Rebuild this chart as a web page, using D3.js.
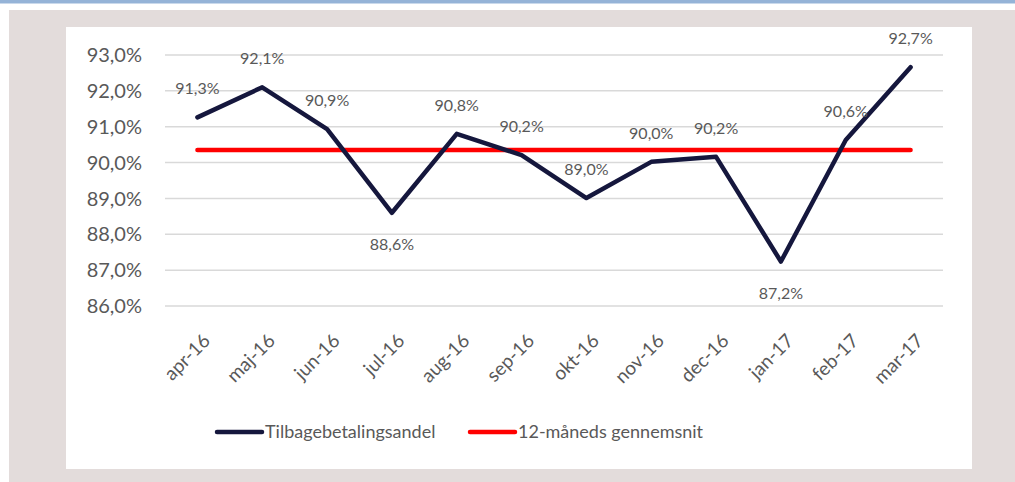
<!DOCTYPE html>
<html>
<head>
<meta charset="utf-8">
<script src="https://cdn.jsdelivr.net/npm/d3@7"></script>
<style>
  body { margin: 0; background: #fff; }
  text { font-family: Lato, "Noto Sans", sans-serif; fill: #595959; }
</style>
</head>
<body>
<script>
// ---------------------------------------------------------------
// data
var months = ["apr-16", "maj-16", "jun-16", "jul-16", "aug-16", "sep-16",
              "okt-16", "nov-16", "dec-16", "jan-17", "feb-17", "mar-17"];
var andel = [91.26, 92.10, 90.93, 88.60, 90.80, 90.21, 89.01, 90.02, 90.16, 87.24, 90.63, 92.66];
var snit = [90.35, 90.35, 90.35, 90.35, 90.35, 90.35, 90.35, 90.35, 90.35, 90.35, 90.35, 90.35];
var labelBelow = ["jul-16", "jan-17"];
var yTicks = [86, 87, 88, 89, 90, 91, 92, 93];
var seriesNames = ["Tilbagebetalingsandel", "12-måneds gennemsnit"];
var seriesColors = ["#15173d", "#ff0000"];
// ---------------------------------------------------------------

var W = 1015, H = 482;
var svg = d3.select("body").append("svg").attr("width", W).attr("height", H);

// frame
svg.append("rect").attr("x", 0).attr("y", 0).attr("width", W).attr("height", 3.5).attr("fill", "#95b3d7");
svg.append("rect").attr("x", 9).attr("y", 10).attr("width", W - 9).attr("height", H - 10).attr("fill", "#e3dcdb");
svg.append("rect").attr("x", 66).attr("y", 27).attr("width", 906).attr("height", 442).attr("fill", "#fff");

var x = d3.scaleBand().domain(months).range([165, 943]);
var y = d3.scaleLinear().domain([86, 93]).range([306, 55]);
var fmt = function(v) { return d3.format(".1f")(v).replace(".", ",") + "%"; };

// grid + y labels
svg.append("g").selectAll("line").data(yTicks).enter().append("line")
  .attr("x1", 165).attr("x2", 943)
  .attr("y1", function(d) { return y(d); }).attr("y2", function(d) { return y(d); })
  .attr("stroke", "#d9d9d9").attr("stroke-width", 1.5);

svg.append("g").selectAll("text").data(yTicks).enter().append("text")
  .attr("x", 142).attr("y", function(d) { return y(d); }).attr("dy", "0.36em")
  .attr("text-anchor", "end").style("font-size", "20px")
  .text(function(d) { return fmt(d); });

// x labels, rotated -45
svg.append("g").selectAll("text").data(months).enter().append("text")
  .attr("transform", function(d) { return "translate(" + (x(d) + x.bandwidth() / 2 + 14) + ",342) rotate(-45)"; })
  .attr("text-anchor", "end").style("font-size", "19px")
  .text(function(d) { return d; });

var cx = function(d, i) { return x(months[i]) + x.bandwidth() / 2; };
var line = d3.line().x(cx).y(function(d) { return y(d); });

svg.append("path").datum(snit).attr("d", line).attr("fill", "none")
  .attr("stroke", seriesColors[1]).attr("stroke-width", 4.5).attr("stroke-linecap", "round");
svg.append("path").datum(andel).attr("d", line).attr("fill", "none")
  .attr("stroke", seriesColors[0]).attr("stroke-width", 4.5).attr("stroke-linecap", "round")
  .attr("stroke-linejoin", "round");

// data labels
svg.append("g").selectAll("text").data(andel).enter().append("text")
  .attr("x", cx)
  .attr("y", function(d, i) { return labelBelow.indexOf(months[i]) > -1 ? y(d) + 37 : y(d) - 23; })
  .attr("text-anchor", "middle").style("font-size", "16px")
  .text(function(d) { return fmt(d); });

// legend
var leg = svg.append("g").selectAll("g").data(seriesNames).enter().append("g")
  .attr("transform", function(d, i) { return "translate(" + [217, 470][i] + ",432)"; });
leg.append("line").attr("x1", 0).attr("x2", 45).attr("y1", 0).attr("y2", 0)
  .attr("stroke", function(d, i) { return seriesColors[i]; })
  .attr("stroke-width", 4.5).attr("stroke-linecap", "round");
leg.append("text").attr("x", 48).attr("dy", "0.36em").style("font-size", "18px")
  .text(function(d) { return d; });
</script>
</body>
</html>
